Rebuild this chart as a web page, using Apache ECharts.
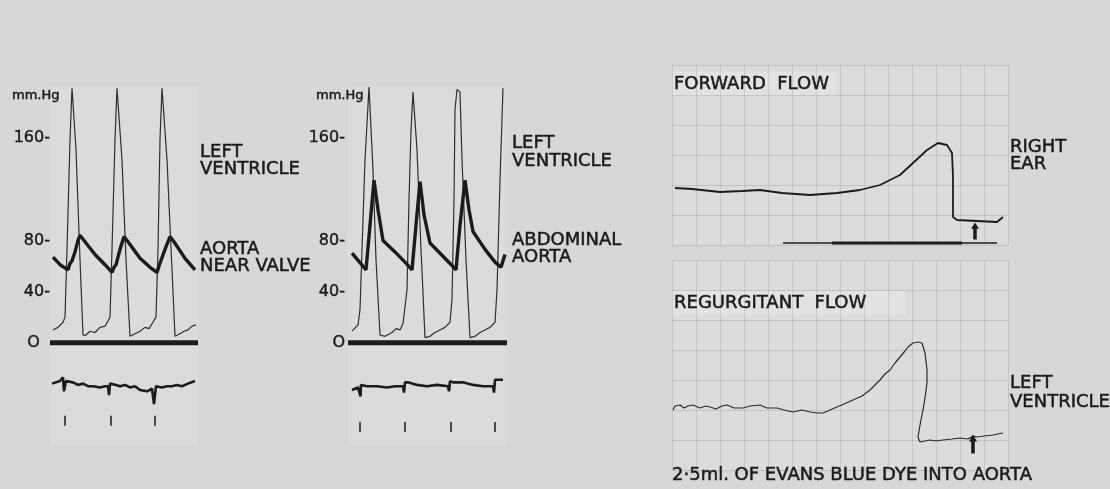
<!DOCTYPE html>
<html>
<head>
<meta charset="utf-8">
<script src="https://cdn.jsdelivr.net/npm/echarts@6/dist/echarts.min.js"></script>
<style>
  html, body { margin: 0; padding: 0; background: #d7d7d7; }
  #chart { width: 1110px; height: 489px; }
</style>
</head>
<body>
<div id="chart"></div>
<script>
// pressure tick labels (mm Hg) shared by both pressure panels
const pressureTicks = [0, 40, 80, 160];

// left panel: LV and aorta near valve (time units along record, mm Hg)
const leftVentricleA = [[3,10],[8,12],[13,16],[15,20],[17,73],[20,159],[22,199],[26,151],[30,65],[33,6],[36,6],[40,9],[45,8],[50,12],[55,13],[58,17],[60,20],[62,73],[65,159],[67,199],[72,143],[76,65],[80,5],[85,7],[90,9],[95,12],[99,11],[103,16],[106,20],[108,73],[110,159],[112,199],[117,143],[122,57],[125,5],[130,7],[134,9],[138,10],[142,13],[146,14]];
const aortaNearValve = [[3,67],[10,61],[18,57],[20,62],[22,64],[25,71],[28,80],[30,84],[35,79],[45,69],[55,61],[62,55],[64,59],[66,61],[70,73],[74,83],[78,79],[90,66],[100,59],[107,55],[109,60],[111,61],[115,73],[120,83],[124,79],[135,66],[145,57]];
const ecgA = [[2,-32],[10,-30],[13,-27],[14,-38],[16,-30],[23,-31],[28,-33],[33,-32],[38,-34],[43,-34],[50,-35],[55,-34],[58,-34],[59,-41],[60,-32],[66,-33],[70,-34],[75,-33],[80,-35],[85,-34],[90,-37],[97,-38],[102,-36],[104,-48],[106,-34],[112,-35],[117,-34],[122,-34],[127,-33],[132,-34],[138,-32],[145,-30]];
const timeMarksA = [[15,-61],[61,-61],[105,-61]];
const zeroLineA = [[0,0],[148,0]];

// middle panel: LV and abdominal aorta
const leftVentricleB = [[4,9],[10,14],[12,26],[14,73],[17,143],[21,200],[25,135],[28,65],[32,6],[37,5],[44,8],[48,11],[52,10],[55,15],[57,16],[59,41],[61,112],[63,166],[65,196],[69,151],[73,73],[77,4],[82,5],[87,8],[92,10],[97,12],[102,16],[104,34],[106,112],[107,182],[109,198],[112,196],[114,143],[118,65],[122,4],[127,5],[132,8],[137,10],[142,12],[147,16],[149,41],[152,127],[155,199]];
const abdominalAorta = [[4,70],[18,57],[22,92],[26,127],[30,104],[35,80],[47,71],[57,63],[64,57],[68,92],[72,126],[76,100],[82,78],[92,70],[102,62],[108,57],[112,92],[117,127],[121,104],[125,87],[137,73],[147,63],[153,59],[157,69]];
const ecgB = [[4,-37],[10,-35],[12,-34],[12.5,-42],[13,-33],[19,-34],[29,-34],[39,-35],[47,-34],[55,-34],[56,-39],[57,-31],[60,-31],[69,-33],[79,-34],[89,-33],[100,-34],[101,-38],[102,-30],[105,-31],[115,-31],[125,-33],[135,-34],[145,-34],[146,-39],[147,-29],[155,-29]];
const timeMarksB = [[12,-66],[57,-66],[103,-66],[147,-66]];
const zeroLineB = [[0,0],[159,0]];

// right panels: dye dilution curves (arbitrary units)
const forwardFlow = [[3,57],[20,56],[48,53],[70,54],[88,55],[110,52],[138,50],[165,52],[188,55],[208,60],[228,70],[241,82],[255,95],[266,102],[275,100],[280,92],[281,68],[281,28],[285,25],[305,24],[325,23],[331,28]];
const forwardBase = [[111,2],[325,2]];
const forwardBaseCore = [[160,2],[290,2]];
const forwardInjection = [[303,14]];
const regurgitantFlow = [[1,60],[3,64],[8,65],[12,62],[16,64],[21,65],[28,62],[34,64],[38,63],[44,61],[50,64],[55,65],[62,62],[71,62],[78,64],[88,65],[95,62],[105,62],[112,60],[121,58],[130,60],[138,58],[145,57],[151,57],[158,60],[165,63],[172,66],[181,70],[190,74],[198,80],[204,86],[208,90],[213,96],[218,100],[223,107],[228,113],[233,119],[236,123],[241,127],[246,128],[250,127],[253,117],[255,100],[255,87],[253,72],[251,60],[248,45],[246,33],[248,28],[258,30],[264,29],[271,30],[280,31],[288,32],[296,31],[301,34],[305,33],[312,34],[321,35],[331,37]];
const regurgitantInjection = [[301,26]];

const ink = '#1b1b1b';
const font = 'DejaVu Sans';
const arrowPath = 'path://M5,0 L10,8 L7.2,8 L7.2,22 L2.8,22 L2.8,8 L0,8 Z';

function pressureAxis(idx, pad) {
  return {
    gridIndex: idx, type: 'value', min: -80, max: 200, interval: 40,
    axisLine: { show: false }, axisTick: { show: false }, splitLine: { show: false },
    axisLabel: {
      margin: idx === 0 ? 0 : 3, color: ink, fontFamily: font, fontSize: 16,
      textBorderColor: ink, textBorderWidth: 0.4,
      formatter: function (v) {
        if (pressureTicks.indexOf(v) < 0) return '';
        if (v === 0) return 'O' + pad;
        return v + '-';
      }
    }
  };
}
function timeAxis(idx, max) {
  return { gridIndex: idx, type: 'value', min: 0, max: max, show: false };
}
function paperX(idx) {
  return {
    gridIndex: idx, type: 'value', min: 0, max: 336, interval: 24,
    axisLine: { show: false }, axisTick: { show: false }, axisLabel: { show: false },
    splitLine: { show: true, lineStyle: { color: 'rgba(60,60,60,0.13)', width: 1 } }
  };
}
function paperY(idx, max) {
  return {
    gridIndex: idx, type: 'value', min: 0, max: max, interval: 30,
    axisLine: { show: false }, axisTick: { show: false }, axisLabel: { show: false },
    splitLine: { show: true, lineStyle: { color: 'rgba(60,60,60,0.16)', width: 1 } }
  };
}
function trace(x, data, width, color) {
  return {
    type: 'line', xAxisIndex: x, yAxisIndex: x, data: data, symbol: 'none',
    lineStyle: { width: width, color: color || ink }, silent: true, animation: false
  };
}
function marks(x, data, size, symbol) {
  return {
    type: 'scatter', xAxisIndex: x, yAxisIndex: x, data: data,
    symbol: symbol || 'rect', symbolSize: size, itemStyle: { color: ink, opacity: 1 },
    silent: true, animation: false
  };
}
function label(text, x, y, size) {
  return {
    type: 'text', x: x, y: y, silent: true,
    style: {
      text: text, fill: ink, stroke: ink, lineWidth: 0.5,
      font: (size || 18) + 'px "' + font + '"', textVerticalAlign: 'middle'
    }
  };
}
function boxLabel(text, x, y, padRight) {
  return {
    type: 'text', x: x, y: y, silent: true,
    style: {
      text: text, fill: ink, stroke: ink, lineWidth: 0.5, font: '18px "' + font + '"',
      backgroundColor: '#e2e2e2', padding: [3, padRight, 3, 2]
    }
  };
}

const chart = echarts.init(document.getElementById('chart'));
chart.setOption({
  backgroundColor: '#d7d7d7',
  animation: false,
  grid: [
    { left: 50, top: 87, width: 148, height: 358, show: true, backgroundColor: '#dbdbdb', borderWidth: 0 },
    { left: 348, top: 87, width: 159, height: 358, show: true, backgroundColor: '#dbdbdb', borderWidth: 0 },
    { left: 672, top: 65, width: 336, height: 180, show: true, backgroundColor: '#dcdcdc', borderWidth: 0 },
    { left: 672, top: 260, width: 336, height: 210, show: true, backgroundColor: '#dcdcdc', borderWidth: 0 }
  ],
  xAxis: [timeAxis(0, 148), timeAxis(1, 159), paperX(2), paperX(3)],
  yAxis: [pressureAxis(0, '  '), pressureAxis(1, ''), paperY(2, 180), paperY(3, 210)],
  series: [
    trace(0, zeroLineA, 5),
    trace(0, leftVentricleA, 1.2, '#2e2e2e'),
    trace(0, aortaNearValve, 3.4),
    trace(0, ecgA, 2.6),
    marks(0, timeMarksA, [1.5, 10]),
    trace(1, zeroLineB, 5),
    trace(1, leftVentricleB, 1.2, '#2e2e2e'),
    trace(1, abdominalAorta, 3.4),
    trace(1, ecgB, 2.6),
    marks(1, timeMarksB, [1.5, 10]),
    trace(2, forwardBase, 1.5),
    trace(2, forwardBaseCore, 3),
    trace(2, forwardFlow, 1.8),
    marks(2, forwardInjection, [8, 17], arrowPath),
    trace(3, regurgitantFlow, 1.2, '#2a2a2a'),
    marks(3, regurgitantInjection, [8, 19], arrowPath)
  ],
  graphic: [
    label('mm.Hg', 12, 96, 13),
    label('mm.Hg', 316, 96, 13),
    label('LEFT', 200, 152),
    label('VENTRICLE', 200, 169),
    label('AORTA', 200, 249),
    label('NEAR VALVE', 200, 266),
    label('LEFT', 512, 143),
    label('VENTRICLE', 512, 161),
    label('ABDOMINAL', 512, 240),
    label('AORTA', 512, 257),
    boxLabel('FORWARD  FLOW', 672, 72, 8),
    boxLabel('REGURGITANT  FLOW', 672, 291, 40),
    label('RIGHT', 1010, 147),
    label('EAR', 1010, 164),
    label('LEFT', 1010, 383),
    label('VENTRICLE', 1010, 402),
    label('2·5ml. OF EVANS BLUE DYE INTO AORTA', 672, 475, 18)
  ]
});
</script>
</body>
</html>
